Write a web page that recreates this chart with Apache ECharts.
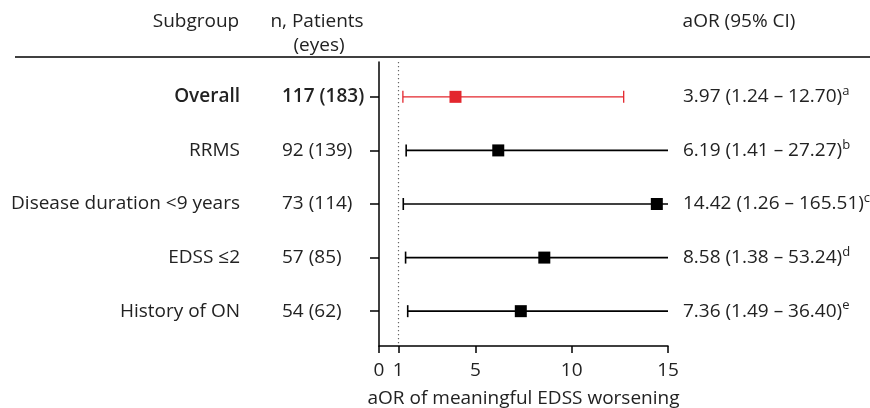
<!DOCTYPE html>
<html>
<head>
<meta charset="utf-8">
<script src="https://cdn.jsdelivr.net/npm/echarts@6/dist/echarts.min.js"></script>
<style>
  html, body { margin: 0; padding: 0; background: #fff; }
  #chart { width: 870px; height: 408px; }
</style>
</head>
<body>
<div id="chart"></div>
<script>
const subgroups = ['Overall', 'RRMS', 'Disease duration <9 years', 'EDSS ≤2', 'History of ON'];
const patients = ['117 (183)', '92 (139)', '73 (114)', '57 (85)', '54 (62)'];
const aor = [3.97, 6.19, 14.42, 8.58, 7.36];
const lower = [1.24, 1.41, 1.26, 1.38, 1.49];
const upper = [12.70, 27.27, 165.51, 53.24, 36.40];
const notes = ['a', 'b', 'c', 'd', 'e'];
const xTicks = [0, 1, 5, 10, 15];
const rows = [1, 2, 3, 4, 5];

const FONT = '"Open Sans", "Noto Sans", sans-serif';
const FS = 19;
const TXT = '#222';
const RED = '#e3262d';
const X_MAX = 15;

const chart = echarts.init(document.getElementById('chart'));

const rowData = subgroups.map((s, i) => [rows[i], aor[i], lower[i], upper[i], i]);

function ciText(i) {
    const f = v => v.toFixed(2);
    return `${f(aor[i])} (${f(lower[i])} – ${f(upper[i])}){sup|${notes[i]}}`;
}

function renderRow(params, api) {
    const i = api.value(4);
    const row = api.value(0);
    const y = api.coord([0, row])[1];
    const xMid = api.coord([api.value(1), row])[0];
    const xLo = api.coord([api.value(2), row])[0];
    const up = api.value(3);
    const xUp = api.coord([Math.min(up, X_MAX), row])[0];
    const color = i === 0 ? RED : '#000';
    const lw = i === 0 ? 1.3 : 1.6;
    const bold = i === 0 ? '600' : 'normal';
    const children = [
        { type: 'line', shape: { x1: xLo, y1: y, x2: xUp, y2: y }, style: { stroke: color, lineWidth: lw } },
        { type: 'line', shape: { x1: xLo, y1: y - 6, x2: xLo, y2: y + 6 }, style: { stroke: color, lineWidth: lw } }
    ];
    if (up <= X_MAX) {
        children.push({ type: 'line', shape: { x1: xUp, y1: y - 6, x2: xUp, y2: y + 6 }, style: { stroke: color, lineWidth: lw } });
    }
    children.push({ type: 'rect', shape: { x: xMid - 6, y: y - 6, width: 12, height: 12 }, style: { fill: color } });
    children.push({
        type: 'text',
        style: { text: subgroups[i], x: 240, y: y, align: 'right', verticalAlign: 'middle', fill: TXT,
                 font: `${bold} ${FS}px ${FONT}` }
    });
    children.push({
        type: 'text',
        style: { text: patients[i], x: 282, y: y, align: 'left', verticalAlign: 'middle', fill: TXT,
                 font: `${bold} ${FS}px ${FONT}` }
    });
    children.push({
        type: 'text',
        style: {
            text: ciText(i), x: 683, y: y, align: 'left', verticalAlign: 'middle', fill: TXT,
            fontFamily: FONT, fontSize: FS,
            rich: { sup: { fontSize: 13, fontFamily: FONT, fill: TXT, verticalAlign: 'top', padding: [0, 0, 11, 0] } }
        }
    });
    return { type: 'group', children };
}

chart.setOption({
    animation: false,
    grid: { left: 379, right: 202, top: 62, bottom: 62, outerBoundsMode: 'none', containLabel: false },
    xAxis: {
        type: 'value',
        min: 0,
        max: X_MAX,
        splitLine: { show: false },
        axisLine: { lineStyle: { color: '#000', width: 1.5 } },
        axisTick: { show: true, length: 7, customValues: xTicks, lineStyle: { color: '#000', width: 1.5 } },
        axisLabel: { customValues: xTicks, color: TXT, fontSize: FS, fontFamily: FONT, margin: 15 },
        name: 'aOR of meaningful EDSS worsening',
        nameLocation: 'middle',
        nameGap: 43,
        nameTextStyle: { color: TXT, fontSize: FS, fontFamily: FONT }
    },
    yAxis: {
        type: 'value',
        inverse: true,
        min: 0.35,
        max: 5.65,
        splitLine: { show: false },
        axisLine: { show: true, lineStyle: { color: '#000', width: 1.5 } },
        axisTick: { show: true, length: 9, customValues: rows, lineStyle: { color: '#000', width: 1.5 } },
        axisLabel: { show: false }
    },
    graphic: [
        { type: 'text', style: { text: 'Subgroup', x: 196, y: 22, align: 'center', verticalAlign: 'middle', fill: TXT, font: `${FS}px ${FONT}` } },
        { type: 'text', style: { text: 'n, Patients', x: 317, y: 22, align: 'center', verticalAlign: 'middle', fill: TXT, font: `${FS}px ${FONT}` } },
        { type: 'text', style: { text: '(eyes)', x: 319, y: 46, align: 'center', verticalAlign: 'middle', fill: TXT, font: `${FS}px ${FONT}` } },
        { type: 'text', style: { text: 'aOR (95% CI)', x: 739, y: 22, align: 'center', verticalAlign: 'middle', fill: TXT, font: `${FS}px ${FONT}` } },
        { type: 'line', shape: { x1: 15, y1: 57, x2: 870, y2: 57 }, style: { stroke: '#000', lineWidth: 1.5 } }
    ],
    series: [{
        type: 'custom',
        renderItem: renderRow,
        data: rowData,
        clip: false,
        encode: { x: 1, y: 0 },
        markLine: {
            silent: true,
            symbol: 'none',
            label: { show: false },
            lineStyle: { color: '#666', type: [1.2, 2.8], width: 1.2 },
            data: [{ xAxis: 1 }]
        }
    }]
});
</script>
</body>
</html>
